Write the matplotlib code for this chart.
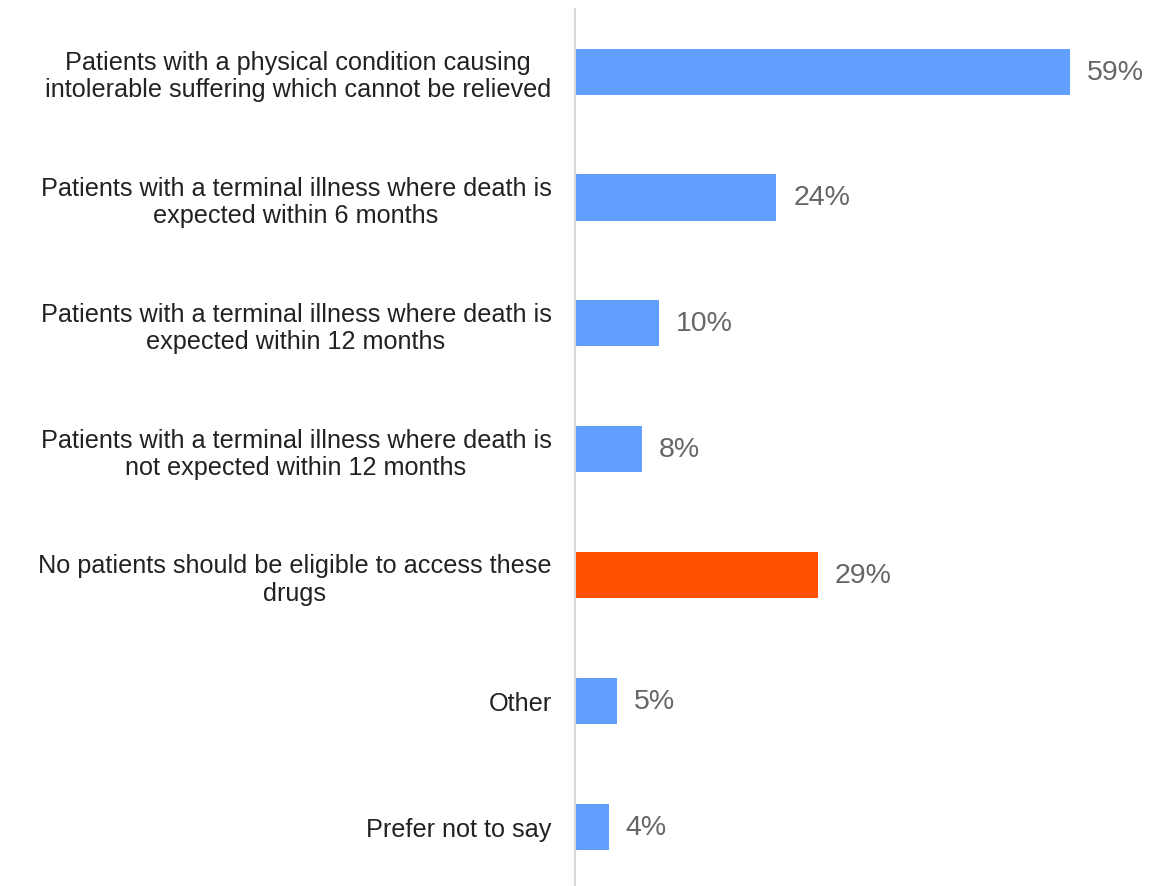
import matplotlib
matplotlib.use("Agg")
import matplotlib.pyplot as plt

categories = [
    "Patients with a physical condition causing\nintolerable suffering which cannot be relieved",
    "Patients with a terminal illness where death is\nexpected within 6 months",
    "Patients with a terminal illness where death is\nexpected within 12 months",
    "Patients with a terminal illness where death is\nnot expected within 12 months",
    "No patients should be eligible to access these\ndrugs",
    "Other",
    "Prefer not to say",
]
values = [59, 24, 10, 8, 29, 5, 4]
value_labels = ["59%", "24%", "10%", "8%", "29%", "5%", "4%"]

BLUE = "#619FFF"
ORANGE = "#FF5100"
colors = [BLUE, BLUE, BLUE, BLUE, ORANGE, BLUE, BLUE]

plt.rcParams["font.family"] = ["Liberation Sans", "DejaVu Sans"]

fig = plt.figure(figsize=(11.5, 8.87), dpi=100)
ax = fig.add_axes([0.5, -0.004, 0.5, 0.993])

y = list(range(len(categories)))
ax.barh(y, values, height=0.366, color=colors, edgecolor="none")

ax.set_xlim(0, 68.5)
ax.set_ylim(len(categories) - 0.5, -0.5)

for yi, v, lab in zip(y, values, value_labels):
    ax.annotate(lab, xy=(v, yi), xytext=(12, 0), textcoords="offset points",
                ha="left", va="center", fontsize=20.5, color="#666666")

ax.set_yticks(y)
ax.set_yticklabels(categories, fontsize=18.2, color="#222222", ha="right",
                   multialignment="center", linespacing=1.17)
ax.tick_params(axis="y", length=0, pad=17)
ax.set_xticks([])

for s in ["top", "right", "bottom"]:
    ax.spines[s].set_visible(False)
ax.spines["left"].set_color("#d9d9d9")
ax.spines["left"].set_linewidth(1.5)

fig.savefig("out.png", dpi=100, facecolor="white")
